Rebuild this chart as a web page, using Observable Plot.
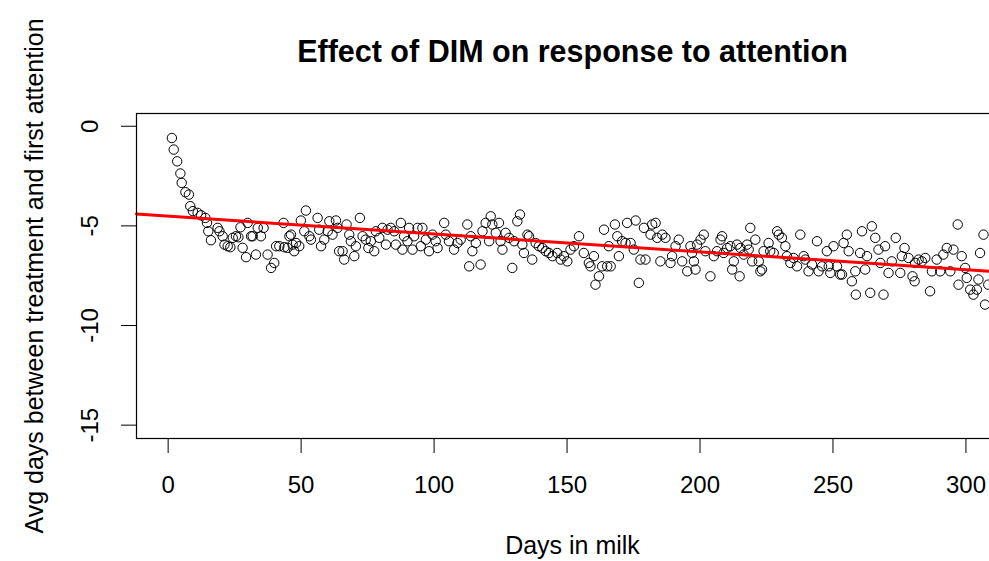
<!DOCTYPE html>
<html><head><meta charset="utf-8">
<script src="https://cdn.jsdelivr.net/npm/d3@7"></script>
<script src="https://cdn.jsdelivr.net/npm/@observablehq/plot@0.6"></script>
<style>
html,body{margin:0;padding:0;background:#fff;overflow:hidden;}
#chart{width:1040px;}
</style></head><body><div id="chart"></div>
<script>
const days = [
1.4,2.1,3.4,4.6,5.1,6.5,7.8,8.3,9.3,11.1,12.4,14.0,14.6,15.1,16.1,18.6,19.3,20.5,21.2,22.4,23.4,24.3,25.5,26.4,27.2,28.0,29.3,29.9,31.2,31.8,33.0,33.7,34.9,35.9,37.4,38.7,39.9,40.6,41.8,43.4,43.7,44.9,45.6,
46.2,46.8,47.4,48.1,49.3,49.9,51.2,51.8,53.1,53.7,56.2,56.8,57.5,58.7,60.0,60.6,61.8,63.1,63.7,64.3,65.6,66.2,67.1,68.1,68.7,70.0,70.6,72.1,73.1,74.3,75.3,76.2,77.5,78.1,79.4,80.6,81.9,82.5,83.7,85.0,85.6,87.5,88.1,88.7,90.0,90.6,91.9,92.5,93.8,95.0,
95.6,96.9,98.1,99.4,100.6,101.3,103.8,104.4,105.6,107.5,108.8,110.0,112.5,113.2,113.8,114.4,115.7,117.5,118.2,119.4,120.7,121.3,121.9,123.2,124.4,125.0,125.7,126.9,128.2,129.4,130.1,131.3,132.3,133.2,133.8,135.1,135.7,136.9,138.2,139.4,140.7,142.0,143.2,144.5,
146.3,147.6,148.8,150.1,151.3,152.6,154.5,156.3,158.2,158.8,160.1,160.7,162.0,163.2,163.9,165.1,165.7,166.4,168.0,168.9,169.5,170.7,172.0,172.6,173.9,175.1,175.8,177.0,177.6,178.9,179.5,181.4,182.0,183.3,183.9,185.1,185.8,187.0,188.9,189.5,190.8,192.0,193.3,195.2,196.4,197.0,
197.7,198.3,198.9,200.2,201.4,202.0,203.9,205.2,206.4,207.7,208.3,208.9,210.2,211.4,212.1,212.7,213.9,214.9,215.2,216.4,217.7,218.3,218.9,219.6,220.8,222.1,222.7,223.3,223.9,225.8,226.4,227.7,229.0,229.6,230.8,232.1,232.7,234.0,235.2,236.5,237.7,239.0,239.6,240.8,242.1,244.0,244.6,245.9,
247.7,248.4,249.0,250.2,251.5,252.7,253.4,254.0,255.2,255.9,257.1,258.4,258.6,260.2,260.9,262.1,262.8,264.0,264.6,265.9,267.1,267.8,269.0,269.6,270.9,272.1,273.6,275.3,275.9,276.9,278.4,279.9,280.7,280.9,282.2,283.4,284.7,286.5,287.2,289.0,290.3,291.5,292.8,294.1,295.3,296.9,297.2,298.4,299.7,300.3,301.6,302.8,304.1,304.7,305.3,306.6,307.2,308.4
];
const values = [
-0.59,-1.17,-1.76,-2.37,-2.84,-3.31,-3.43,-4.01,-4.26,-4.35,-4.47,-4.60,-4.85,-5.27,-5.72,-5.10,-5.27,-5.52,-5.94,-6.02,-6.07,-5.60,-5.52,-5.57,-5.07,-6.10,-6.57,-4.85,-5.52,-5.52,-6.44,-5.10,-5.52,-5.10,-6.44,-7.11,-6.86,-6.02,-6.02,-4.85,-6.07,-6.10,-5.52,
-5.44,-5.94,-6.27,-5.86,-6.02,-4.73,-5.27,-4.23,-5.52,-5.69,-4.60,-5.19,-6.02,-5.69,-5.27,-4.77,-5.44,-4.73,-5.10,-6.27,-6.27,-6.69,-4.93,-5.44,-5.77,-6.52,-6.02,-4.60,-5.52,-5.69,-6.11,-5.77,-6.27,-5.27,-5.60,-5.10,-5.94,-5.19,-5.10,-5.27,-5.94,-4.85,-6.19,-5.52,-5.77,-5.10,-6.19,-5.52,-5.10,-6.02,
-5.10,-5.69,-6.27,-5.44,-5.77,-6.11,-4.85,-5.44,-5.77,-6.19,-5.86,-5.69,-4.93,-7.03,-5.52,-6.27,-5.86,-6.94,-5.27,-4.85,-5.77,-4.52,-4.93,-5.35,-4.85,-5.77,-6.19,-5.35,-5.60,-7.11,-5.77,-4.77,-4.43,-5.94,-6.36,-5.44,-5.52,-6.69,-5.86,-6.02,-6.11,-6.27,-6.36,-6.52,
-6.36,-6.69,-6.52,-6.78,-6.19,-6.02,-5.52,-6.36,-6.86,-7.03,-6.52,-7.95,-7.53,-7.03,-5.19,-7.03,-6.02,-7.03,-4.93,-5.52,-6.52,-5.77,-5.86,-4.85,-5.86,-6.19,-4.73,-7.86,-6.69,-5.10,-6.69,-5.44,-4.93,-4.85,-5.60,-6.78,-5.44,-5.60,-6.86,-6.52,-6.02,-5.69,-6.78,-7.28,-6.02,-6.36,
-6.78,-7.19,-5.94,-5.69,-5.44,-6.27,-7.53,-6.52,-6.27,-5.69,-5.52,-6.36,-6.11,-6.02,-7.19,-6.78,-5.94,-7.53,-6.11,-6.44,-5.94,-6.19,-5.10,-6.78,-5.69,-6.78,-7.28,-7.19,-6.27,-5.86,-6.27,-6.36,-5.27,-5.44,-5.60,-6.02,-6.52,-6.86,-6.61,-7.03,-5.44,-6.52,-6.69,-7.28,-6.94,-5.77,-7.28,-7.03,
-6.27,-7.03,-7.36,-6.02,-7.03,-7.44,-7.44,-5.86,-5.44,-6.27,-7.78,-7.28,-8.45,-6.36,-5.27,-7.19,-6.52,-8.36,-5.02,-5.60,-6.19,-6.86,-8.45,-6.02,-7.36,-6.78,-5.60,-7.36,-6.52,-6.11,-6.61,-7.53,-7.78,-6.86,-6.69,-6.78,-6.61,-8.28,-7.28,-6.69,-7.28,-6.44,-6.11,-7.28,-6.19,-4.93,-7.95,-6.52,-7.11,-7.61,-8.20,-8.45,-8.20,-7.69,-6.36,-5.44,-8.95,-7.95
];
const xTicks = [0, 50, 100, 150, 200, 250, 300];
const yTicks = [0, -5, -10, -15];
const fitIntercept = -4.51;
const fitSlope = -0.00897;
const titleText = "Effect of DIM on response to attention";
const xLabel = "Days in milk";
const yLabel = "Avg days between treatment and first attention";

const points = days.map((d, i) => ({day: d, value: values[i]}));
const xDomain = [-11.9, 316];
const fitLine = xDomain.map(d => ({day: d, value: fitIntercept + fitSlope * d}));
const font = "'Liberation Sans', Arial, Helvetica, sans-serif";

const chart = Plot.plot({
  width: 1040, height: 561,
  marginLeft: 136, marginRight: 32, marginTop: 113, marginBottom: 123,
  style: {fontFamily: font, fontSize: "24px", color: "#000", background: "#fff", overflow: "visible"},
  x: {domain: xDomain},
  y: {domain: [-15.67, 0.64]},
  marks: [
    Plot.axisX({ticks: xTicks, tickSize: 15, tickPadding: 22, label: null, fontSize: 24, tickFormat: d => String(d), stroke: "#000"}),
    Plot.axisY({ticks: yTicks, tickSize: 15, tickFormat: () => "", label: null, stroke: "#000"}),
    Plot.text(yTicks, {y: d => d, text: d => String(d), frameAnchor: "left", dx: -46, rotate: -90, textAnchor: "middle", lineAnchor: "middle", fontSize: 24, fill: "#000"}),
    Plot.dot(points, {x: "day", y: "value", r: 4.7, stroke: "#000", strokeWidth: 1, fill: "none"}),
    Plot.line(fitLine, {x: "day", y: "value", stroke: "#ff0000", strokeWidth: 3}),
    Plot.frame({stroke: "#000", strokeWidth: 1.2}),
    Plot.text([titleText], {text: d => d, frameAnchor: "top", dy: -61, fontWeight: "bold", fontSize: 30.5, lineAnchor: "middle", fill: "#000"}),
    Plot.text([xLabel], {text: d => d, frameAnchor: "bottom", dy: 107, fontSize: 25, lineAnchor: "middle", fill: "#000"}),
    Plot.text([yLabel], {text: d => d, frameAnchor: "left", dx: -102, rotate: -90, fontSize: 25, lineAnchor: "middle", textAnchor: "middle", fill: "#000"})
  ]
});
document.getElementById("chart").appendChild(chart);
</script></body></html>
